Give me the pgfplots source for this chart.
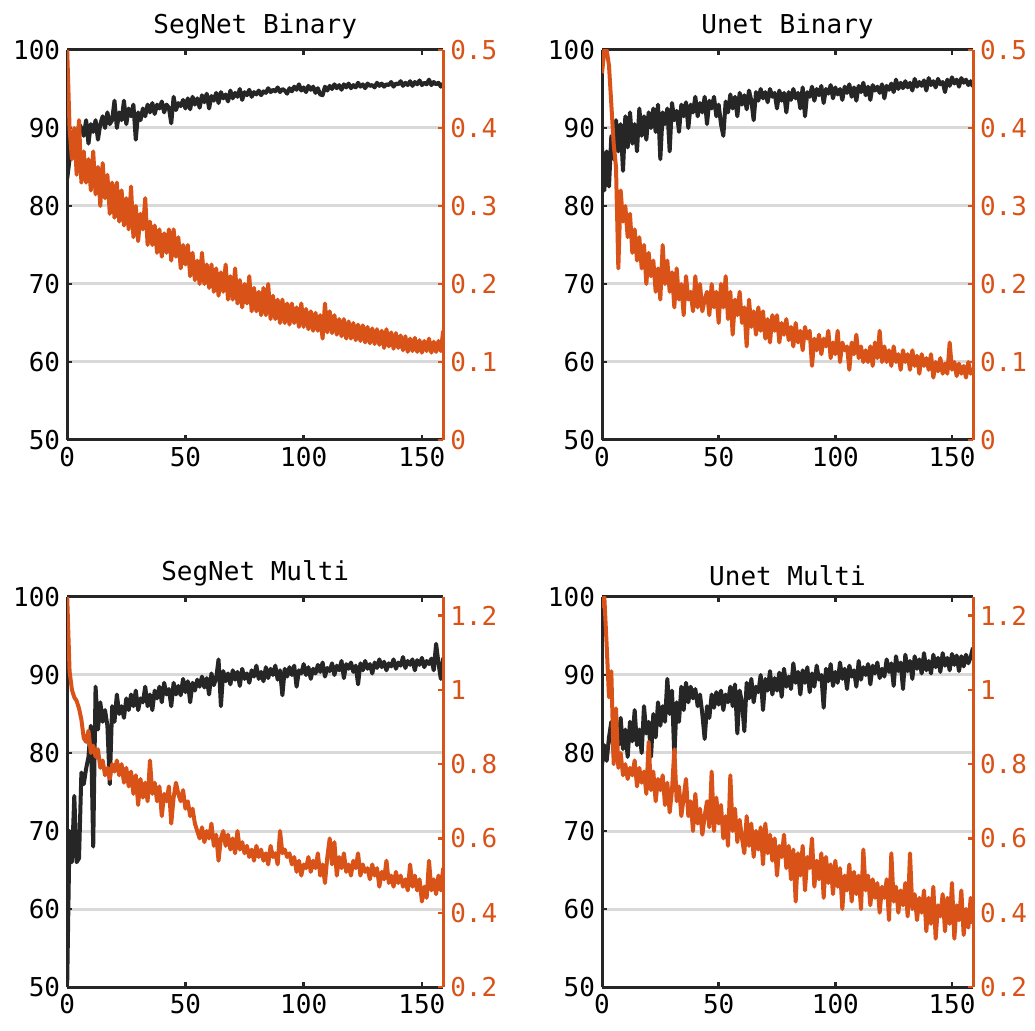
\documentclass[border=0pt]{standalone}
\usepackage{fontspec}
\usepackage{pgfplots}
\pgfplotsset{compat=1.18}
\newfontfamily\monof{DejaVu Sans Mono}
\newcommand\lbl{\monof\fontsize{13}{15}\selectfont}
\definecolor{orng}{RGB}{217,83,25}
\definecolor{axk}{RGB}{38,38,38}
\definecolor{gridc}{RGB}{217,217,217}
\pgfplotsset{
  accline/.style={color=axk, line width=2pt, mark=none, line join=round},
  lossline/.style={color=orng, line width=2pt, mark=none, line join=round},
  accax/.style={scale only axis, width=188pt, height=195pt,
    xmin=0, xmax=159, ymin=50, ymax=100,
    axis y line*=left,
    xtick={0,50,100,150}, xticklabels={0,50,100,150},
    ytick={50,60,70,80,90,100}, yticklabels={50,60,70,80,90,100},
    ymajorgrids, grid style={line width=1.5pt, color=gridc},
    axis line style={line width=1.5pt, color=axk},
    tick style={line width=1.2pt, color=axk},
    major tick length=2.5pt, tick align=inside,
    tick label style={font=\lbl, color=black},
    title style={font=\lbl, yshift=-4pt}},
  lossax/.style={scale only axis, width=188pt, height=195pt,
    xmin=0, xmax=159,
    axis y line*=right, axis x line=none,
    axis line style={line width=1.5pt, color=orng},
    tick style={line width=1.2pt, color=orng},
    major tick length=2.5pt, tick align=inside,
    y tick label style={font=\lbl, color=orng}},
  lossTop/.style={ymin=0, ymax=0.5, ytick={0,0.1,0.2,0.3,0.4,0.5},
    yticklabels={0,0.1,0.2,0.3,0.4,0.5}},
  lossBot/.style={ymin=0.2, ymax=1.25, ytick={0.2,0.4,0.6,0.8,1,1.2},
    yticklabels={0.2,0.4,0.6,0.8,1,1.2}}
}
\begin{document}
\begin{tikzpicture}
\useasboundingbox (0,0) rectangle (517.5pt,515pt);

% ---------------- SegNet Binary
\begin{axis}[accax, at={(33.6pt,295pt)}, anchor=south west, title={SegNet Binary}]
\addplot[accline] coordinates {
(0,83.5)(1,86)(2,88.5)(3,89.5)(4,88)(5,90.5)(6,90)(7,89)(8,91)(9,88)
(10,90.5)(11,89.5)(12,91)(13,88.5)(14,90.5)(15,91.5)(16,90)(17,92)(18,90.5)(19,91)
(20,93.5)(21,90)(22,92)(23,91)(24,93.5)(25,90.5)(26,92.5)(27,91.5)(28,93)(29,88.5)
(30,92)(31,91)(32,92.5)(33,91.5)(34,93)(35,92)(36,93.2)(37,91.8)(38,93)(39,92.5)
(40,93.4)(41,92)(42,93)(43,92.6)(44,90.6)(45,94)(46,92.3)(47,93.2)(48,92.8)(49,93.6)
(50,92.5)(51,93.8)(52,92.4)(53,94)(54,93)(55,93.8)(56,92.6)(57,94.2)(58,93.3)(59,94.4)
(60,92.5)(61,94.1)(62,93.5)(63,94.5)(64,93.2)(65,94.6)(66,93.8)(67,94.3)(68,93.4)(69,94.8)
(70,93.8)(71,94.5)(72,94)(73,95)(74,93.6)(75,94.6)(76,94.2)(77,94.9)(78,94)(79,94.6)
(80,94.3)(81,94.8)(82,94.2)(83,94.7)(84,94.5)(85,95.1)(86,94.6)(87,94.9)(88,94.7)(89,95.2)
(90,94.6)(91,95)(92,94.8)(93,94.4)(94,95.1)(95,94.7)(96,95.3)(97,94.9)(98,95.6)(99,94.8)
(100,95.2)(101,94.6)(102,95.4)(103,94.9)(104,95.3)(105,94.5)(106,95.1)(107,94.3)(108,94.2)(109,95.3)
(110,94.8)(111,95.4)(112,95)(113,95.6)(114,95.1)(115,95.5)(116,94.9)(117,95.6)(118,95.2)(119,95.7)
(120,95.1)(121,95.5)(122,95.2)(123,95.8)(124,95.3)(125,95.6)(126,95.1)(127,95.7)(128,95.4)(129,95.5)
(130,95.2)(131,95.8)(132,95.4)(133,95.7)(134,95.3)(135,95.6)(136,95.5)(137,95.9)(138,95.3)(139,95.7)
(140,95.6)(141,96)(142,95.4)(143,95.8)(144,95.5)(145,96)(146,95.4)(147,95.9)(148,95.6)(149,96.1)
(150,95.5)(151,95.8)(152,95.6)(153,96.2)(154,95.5)(155,95.9)(156,95.6)(157,95.8)(158,95.3)(159,95.7)
};
\end{axis}
\begin{axis}[lossax, lossTop, at={(33.6pt,295pt)}, anchor=south west]
\addplot[lossline] coordinates {
(0,0.50)(1,0.40)(2,0.36)(3,0.40)(4,0.34)(5,0.41)(6,0.33)(7,0.37)(8,0.33)(9,0.36)
(10,0.32)(11,0.37)(12,0.315)(13,0.35)(14,0.30)(15,0.355)(16,0.31)(17,0.34)(18,0.29)(19,0.33)
(20,0.285)(21,0.33)(22,0.28)(23,0.32)(24,0.275)(25,0.31)(26,0.27)(27,0.325)(28,0.26)(29,0.30)
(30,0.255)(31,0.29)(32,0.27)(33,0.31)(34,0.25)(35,0.28)(36,0.25)(37,0.275)(38,0.24)(39,0.27)
(40,0.235)(41,0.265)(42,0.24)(43,0.27)(44,0.23)(45,0.27)(46,0.235)(47,0.26)(48,0.22)(49,0.25)
(50,0.225)(51,0.25)(52,0.21)(53,0.24)(54,0.205)(55,0.23)(56,0.2)(57,0.24)(58,0.2)(59,0.225)
(60,0.195)(61,0.225)(62,0.19)(63,0.22)(64,0.185)(65,0.215)(66,0.19)(67,0.225)(68,0.18)(69,0.21)
(70,0.18)(71,0.22)(72,0.175)(73,0.205)(74,0.17)(75,0.2)(76,0.175)(77,0.21)(78,0.165)(79,0.195)
(80,0.165)(81,0.19)(82,0.16)(83,0.195)(84,0.16)(85,0.2)(86,0.155)(87,0.185)(88,0.155)(89,0.18)
(90,0.15)(91,0.18)(92,0.15)(93,0.175)(94,0.148)(95,0.175)(96,0.15)(97,0.17)(98,0.145)(99,0.175)
(100,0.145)(101,0.168)(102,0.142)(103,0.165)(104,0.14)(105,0.163)(106,0.14)(107,0.16)(108,0.13)(109,0.175)
(110,0.138)(111,0.165)(112,0.137)(113,0.16)(114,0.135)(115,0.155)(116,0.133)(117,0.155)(118,0.13)(119,0.152)
(120,0.13)(121,0.15)(122,0.128)(123,0.148)(124,0.127)(125,0.147)(126,0.125)(127,0.145)(128,0.124)(129,0.143)
(130,0.123)(131,0.142)(132,0.122)(133,0.14)(134,0.118)(135,0.142)(136,0.12)(137,0.138)(138,0.117)(139,0.137)
(140,0.118)(141,0.134)(142,0.115)(143,0.133)(144,0.113)(145,0.13)(146,0.114)(147,0.131)(148,0.113)(149,0.128)
(150,0.112)(151,0.127)(152,0.114)(153,0.13)(154,0.112)(155,0.126)(156,0.113)(157,0.127)(158,0.114)(159,0.14)
};
\end{axis}

% ---------------- Unet Binary
\begin{axis}[accax, width=185.5pt, at={(301pt,295pt)}, anchor=south west, title={Unet Binary}]
\addplot[accline] coordinates {
(0,87.5)(1,82)(2,87)(3,82.5)(4,89)(5,86)(6,91)(7,87)(8,90.5)(9,84.5)
(10,91.5)(11,87.5)(12,92)(13,88)(14,90.5)(15,87)(16,92.5)(17,89)(18,91.5)(19,88.5)
(20,92)(21,90)(22,92.5)(23,89.5)(24,93)(25,86)(26,92)(27,90.5)(28,92.5)(29,87)
(30,93.2)(31,91)(32,92.2)(33,89.5)(34,93)(35,91.5)(36,93.3)(37,90)(38,93)(39,92)
(40,94)(41,91.5)(42,93.2)(43,92)(44,94)(45,90.5)(46,93.5)(47,92.5)(48,94)(49,91.5)
(50,93)(51,90.5)(52,89)(53,93.4)(54,92)(55,94.3)(56,92.5)(57,94)(58,91.5)(59,94.5)
(60,93)(61,94.2)(62,92.4)(63,94.8)(64,93.5)(65,91)(66,94.6)(67,93.5)(68,95)(69,93.8)
(70,94.6)(71,93.3)(72,95)(73,94)(74,94.5)(75,92.5)(76,94.8)(77,93.5)(78,94.5)(79,92)
(80,94.6)(81,93.6)(82,95)(83,93.8)(84,94.5)(85,92.5)(86,95.2)(87,91.5)(88,94.6)(89,94)
(90,95.3)(91,93.5)(92,95)(93,94.2)(94,95.4)(95,93.2)(96,95)(97,94.4)(98,95.5)(99,93.8)
(100,95.2)(101,94.3)(102,95)(103,93.6)(104,95.3)(105,94.5)(106,95.6)(107,94)(108,95.2)(109,93.5)
(110,95.4)(111,94.6)(112,95.8)(113,94.2)(114,95.3)(115,93.6)(116,95.5)(117,94.8)(118,95.3)(119,94.5)
(120,95.6)(121,93.8)(122,95.4)(123,94.9)(124,95.7)(125,94.6)(126,96.2)(127,95)(128,95.8)(129,95.1)
(130,96)(131,95.2)(132,95.8)(133,94.8)(134,96.3)(135,95.3)(136,95.9)(137,95.4)(138,96.1)(139,94.8)
(140,96.4)(141,95.5)(142,96)(143,95.2)(144,96.3)(145,95.6)(146,95.9)(147,94.6)(148,96.2)(149,95.4)
(150,96.5)(151,95.7)(152,96.2)(153,95.3)(154,96.4)(155,95.8)(156,96.2)(157,95.5)(158,96)(159,95.3)
};
\end{axis}
\begin{axis}[lossax, lossTop, width=185.5pt, at={(301pt,295pt)}, anchor=south west]
\addplot[lossline] coordinates {
(0,0.47)(1,0.50)(2,0.50)(3,0.48)(4,0.43)(5,0.38)(6,0.35)(7,0.22)(8,0.32)(9,0.28)
(10,0.3)(11,0.26)(12,0.29)(13,0.24)(14,0.27)(15,0.23)(16,0.26)(17,0.22)(18,0.25)(19,0.2)
(20,0.24)(21,0.21)(22,0.23)(23,0.19)(24,0.22)(25,0.18)(26,0.25)(27,0.2)(28,0.23)(29,0.19)
(30,0.215)(31,0.17)(32,0.22)(33,0.18)(34,0.2)(35,0.16)(36,0.21)(37,0.18)(38,0.19)(39,0.165)
(40,0.21)(41,0.17)(42,0.2)(43,0.165)(44,0.18)(45,0.19)(46,0.16)(47,0.2)(48,0.17)(49,0.19)
(50,0.15)(51,0.2)(52,0.17)(53,0.21)(54,0.155)(55,0.19)(56,0.135)(57,0.18)(58,0.16)(59,0.19)
(60,0.15)(61,0.17)(62,0.12)(63,0.18)(64,0.145)(65,0.165)(66,0.135)(67,0.17)(68,0.14)(69,0.165)
(70,0.13)(71,0.155)(72,0.125)(73,0.16)(74,0.14)(75,0.16)(76,0.125)(77,0.15)(78,0.135)(79,0.155)
(80,0.128)(81,0.145)(82,0.12)(83,0.15)(84,0.125)(85,0.14)(86,0.115)(87,0.145)(88,0.13)(89,0.14)
(90,0.095)(91,0.13)(92,0.115)(93,0.135)(94,0.11)(95,0.13)(96,0.12)(97,0.14)(98,0.105)(99,0.125)
(100,0.11)(101,0.14)(102,0.1)(103,0.125)(104,0.115)(105,0.12)(106,0.09)(107,0.125)(108,0.11)(109,0.135)
(110,0.105)(111,0.12)(112,0.1)(113,0.115)(114,0.1)(115,0.12)(116,0.095)(117,0.125)(118,0.105)(119,0.14)
(120,0.1)(121,0.12)(122,0.1)(123,0.115)(124,0.095)(125,0.12)(126,0.1)(127,0.11)(128,0.09)(129,0.115)
(130,0.1)(131,0.11)(132,0.09)(133,0.115)(134,0.095)(135,0.108)(136,0.085)(137,0.11)(138,0.095)(139,0.105)
(140,0.09)(141,0.11)(142,0.08)(143,0.1)(144,0.088)(145,0.105)(146,0.085)(147,0.098)(148,0.085)(149,0.125)
(150,0.09)(151,0.1)(152,0.082)(153,0.098)(154,0.085)(155,0.095)(156,0.08)(157,0.1)(158,0.085)(159,0.092)
};
\end{axis}

% ---------------- SegNet Multi
\begin{axis}[accax, at={(33.6pt,21.5pt)}, anchor=south west, title={SegNet Multi}]
\addplot[accline] coordinates {
(0,50.5)(1,70)(2,66)(3,74.5)(4,66)(5,66.5)(6,77.5)(7,76)(8,78)(9,79.5)
(10,83.5)(11,68)(12,88.5)(13,83)(14,86.5)(15,84)(16,85.5)(17,83.5)(18,76)(19,86)
(20,84)(21,87.5)(22,85)(23,86)(24,84.5)(25,87)(26,85.5)(27,87.5)(28,86)(29,88)
(30,85.5)(31,87)(32,86.5)(33,88.5)(34,86)(35,87.5)(36,85.5)(37,88)(38,87)(39,88.5)
(40,86.5)(41,89)(42,87.5)(43,88.2)(44,86)(45,89)(46,87.5)(47,88.6)(48,87.4)(49,89.5)
(50,87.8)(51,89.2)(52,86.5)(53,89)(54,88)(55,89.4)(56,88.5)(57,89.8)(58,88.4)(59,89.6)
(60,87.5)(61,90.2)(62,88.7)(63,89.6)(64,92)(65,86)(66,90.5)(67,89.2)(68,90.2)(69,88.8)
(70,90.6)(71,89.4)(72,90.4)(73,88.6)(74,90.8)(75,89.5)(76,90.2)(77,89)(78,90.6)(79,89.8)
(80,91.2)(81,89.5)(82,90.4)(83,89.2)(84,91)(85,89.6)(86,90.8)(87,90)(88,91.2)(89,89.4)
(90,90.6)(91,87.4)(92,90.8)(93,89.8)(94,91)(95,90)(96,91.2)(97,88.5)(98,90.6)(99,90.2)
(100,91.4)(101,90)(102,91)(103,89.5)(104,90.8)(105,90.2)(106,91.3)(107,90.4)(108,91.6)(109,89.8)
(110,90.9)(111,90.5)(112,91.5)(113,90)(114,91.2)(115,90.6)(116,91.8)(117,89.6)(118,91.4)(119,90.8)
(120,91.6)(121,90.4)(122,91.2)(123,88.8)(124,91.5)(125,90.6)(126,91.8)(127,90.8)(128,91.4)(129,90.2)
(130,91.6)(131,90.9)(132,92)(133,91)(134,91.7)(135,90.6)(136,91.5)(137,91.1)(138,92)(139,90.8)
(140,91.6)(141,91.2)(142,92.3)(143,90.9)(144,91.8)(145,91.3)(146,92)(147,90.6)(148,91.9)(149,91.3)
(150,92.2)(151,91)(152,91.8)(153,91.4)(154,92.1)(155,90.6)(156,94)(157,91.5)(158,89.5)(159,92.2)
};
\end{axis}
\begin{axis}[lossax, lossBot, at={(33.6pt,21.5pt)}, anchor=south west]
\addplot[lossline] coordinates {
(0,1.25)(1,1.05)(2,1.0)(3,0.98)(4,0.97)(5,0.95)(6,0.92)(7,0.87)(8,0.86)(9,0.89)
(10,0.83)(11,0.85)(12,0.82)(13,0.84)(14,0.79)(15,0.81)(16,0.77)(17,0.79)(18,0.76)(19,0.8)
(20,0.78)(21,0.81)(22,0.77)(23,0.8)(24,0.75)(25,0.79)(26,0.74)(27,0.78)(28,0.72)(29,0.77)
(30,0.69)(31,0.76)(32,0.71)(33,0.75)(34,0.7)(35,0.81)(36,0.72)(37,0.75)(38,0.7)(39,0.74)
(40,0.66)(41,0.72)(42,0.7)(43,0.74)(44,0.64)(45,0.71)(46,0.75)(47,0.72)(48,0.7)(49,0.73)
(50,0.68)(51,0.7)(52,0.66)(53,0.68)(54,0.64)(55,0.62)(56,0.6)(57,0.63)(58,0.59)(59,0.62)
(60,0.6)(61,0.64)(62,0.58)(63,0.61)(64,0.54)(65,0.6)(66,0.62)(67,0.58)(68,0.61)(69,0.57)
(70,0.6)(71,0.56)(72,0.62)(73,0.57)(74,0.59)(75,0.56)(76,0.58)(77,0.55)(78,0.57)(79,0.54)
(80,0.58)(81,0.55)(82,0.57)(83,0.54)(84,0.56)(85,0.53)(86,0.58)(87,0.55)(88,0.56)(89,0.53)
(90,0.62)(91,0.56)(92,0.57)(93,0.55)(94,0.56)(95,0.53)(96,0.55)(97,0.51)(98,0.54)(99,0.5)
(100,0.53)(101,0.52)(102,0.55)(103,0.51)(104,0.54)(105,0.52)(106,0.56)(107,0.5)(108,0.53)(109,0.48)
(110,0.55)(111,0.6)(112,0.53)(113,0.59)(114,0.5)(115,0.55)(116,0.52)(117,0.56)(118,0.51)(119,0.53)
(120,0.5)(121,0.54)(122,0.52)(123,0.56)(124,0.5)(125,0.53)(126,0.51)(127,0.52)(128,0.49)(129,0.53)
(130,0.5)(131,0.52)(132,0.47)(133,0.51)(134,0.49)(135,0.54)(136,0.48)(137,0.5)(138,0.47)(139,0.51)
(140,0.48)(141,0.5)(142,0.47)(143,0.49)(144,0.46)(145,0.53)(146,0.47)(147,0.5)(148,0.46)(149,0.49)
(150,0.43)(151,0.47)(152,0.44)(153,0.54)(154,0.46)(155,0.49)(156,0.45)(157,0.5)(158,0.46)(159,0.52)
};
\end{axis}

% ---------------- Unet Multi
\begin{axis}[accax, width=185.5pt, at={(301pt,21.5pt)}, anchor=south west, title={Unet Multi}]
\addplot[accline] coordinates {
(0,78.5)(1,81)(2,79)(3,82)(4,84)(5,80)(6,83.5)(7,81)(8,84.5)(9,80.5)
(10,83)(11,79.5)(12,84)(13,81.5)(14,85.5)(15,81)(16,83)(17,80)(18,86)(19,82.5)
(20,84)(21,79.5)(22,85)(23,82)(24,86.5)(25,83.5)(26,86)(27,84)(28,89.5)(29,85)
(30,88)(31,79.5)(32,86.5)(33,84)(34,88.5)(35,85.5)(36,89)(37,86.5)(38,88.5)(39,87)
(40,88.2)(41,86)(42,87.5)(43,85)(44,81.8)(45,86)(46,84.5)(47,87.5)(48,85.8)(49,87.8)
(50,86.2)(51,88)(52,85.5)(53,87.5)(54,86.5)(55,88.5)(56,86)(57,88.8)(58,82.5)(59,88)
(60,86.5)(61,82.8)(62,89)(63,87)(64,89.5)(65,86.5)(66,88.5)(67,87.8)(68,90)(69,85.5)
(70,89.5)(71,88)(72,90.5)(73,87.5)(74,89.6)(75,88)(76,90.3)(77,87.2)(78,90.8)(79,88.5)
(80,89.8)(81,88.2)(82,91.5)(83,89)(84,90.4)(85,87.5)(86,90.6)(87,89)(88,91)(89,87.8)
(90,90.2)(91,88.5)(92,91.2)(93,89.4)(94,90)(95,85.8)(96,90.8)(97,89.2)(98,91.4)(99,88.6)
(100,90.4)(101,89)(102,91.6)(103,89.5)(104,90.8)(105,88.2)(106,91.2)(107,89.8)(108,90.6)(109,88.5)
(110,91.8)(111,89.4)(112,91)(113,90)(114,91.4)(115,88.8)(116,91.2)(117,90.2)(118,91.6)(119,89.6)
(120,90.8)(121,89.8)(122,92)(123,90.4)(124,91.5)(125,88.6)(126,92.4)(127,90.5)(128,91.6)(129,88.2)
(130,92.6)(131,90.5)(132,91.8)(133,89.5)(134,92.4)(135,90.8)(136,92)(137,90.2)(138,92.8)(139,90.6)
(140,91.8)(141,90.2)(142,92.6)(143,91)(144,92.2)(145,90.4)(146,92.8)(147,91.2)(148,92.2)(149,90.6)
(150,92.7)(151,91.3)(152,92.5)(153,90.5)(154,92.4)(155,91.1)(156,92.6)(157,91.5)(158,92.3)(159,93.5)
};
\end{axis}
\begin{axis}[lossax, lossBot, width=185.5pt, at={(301pt,21.5pt)}, anchor=south west]
\addplot[lossline] coordinates {
(0,1.22)(1,1.25)(2,1.12)(3,0.98)(4,1.05)(5,0.8)(6,0.95)(7,0.79)(8,0.83)(9,0.77)
(10,0.8)(11,0.76)(12,0.79)(13,0.77)(14,0.81)(15,0.74)(16,0.79)(17,0.75)(18,0.78)(19,0.72)
(20,0.86)(21,0.73)(22,0.78)(23,0.7)(24,0.76)(25,0.73)(26,0.77)(27,0.69)(28,0.75)(29,0.67)
(30,0.73)(31,0.84)(32,0.7)(33,0.74)(34,0.66)(35,0.71)(36,0.76)(37,0.66)(38,0.7)(39,0.62)
(40,0.72)(41,0.64)(42,0.68)(43,0.61)(44,0.66)(45,0.7)(46,0.63)(47,0.78)(48,0.62)(49,0.71)
(50,0.64)(51,0.69)(52,0.6)(53,0.66)(54,0.58)(55,0.77)(56,0.62)(57,0.68)(58,0.59)(59,0.65)
(60,0.6)(61,0.56)(62,0.66)(63,0.58)(64,0.64)(65,0.55)(66,0.62)(67,0.57)(68,0.63)(69,0.53)
(70,0.64)(71,0.56)(72,0.61)(73,0.54)(74,0.6)(75,0.5)(76,0.58)(77,0.55)(78,0.61)(79,0.52)
(80,0.58)(81,0.49)(82,0.57)(83,0.43)(84,0.56)(85,0.5)(86,0.58)(87,0.46)(88,0.55)(89,0.52)
(90,0.6)(91,0.47)(92,0.54)(93,0.49)(94,0.56)(95,0.44)(96,0.55)(97,0.48)(98,0.53)(99,0.45)
(100,0.54)(101,0.47)(102,0.52)(103,0.41)(104,0.5)(105,0.46)(106,0.53)(107,0.43)(108,0.51)(109,0.45)
(110,0.5)(111,0.41)(112,0.57)(113,0.46)(114,0.5)(115,0.42)(116,0.49)(117,0.44)(118,0.48)(119,0.4)
(120,0.47)(121,0.44)(122,0.49)(123,0.38)(124,0.56)(125,0.43)(126,0.47)(127,0.4)(128,0.46)(129,0.42)
(130,0.48)(131,0.39)(132,0.56)(133,0.41)(134,0.45)(135,0.38)(136,0.44)(137,0.4)(138,0.46)(139,0.35)
(140,0.44)(141,0.37)(142,0.47)(143,0.33)(144,0.42)(145,0.39)(146,0.45)(147,0.35)(148,0.44)(149,0.37)
(150,0.48)(151,0.33)(152,0.42)(153,0.38)(154,0.46)(155,0.34)(156,0.41)(157,0.36)(158,0.44)(159,0.37)
};
\end{axis}
\end{tikzpicture}
\end{document}
